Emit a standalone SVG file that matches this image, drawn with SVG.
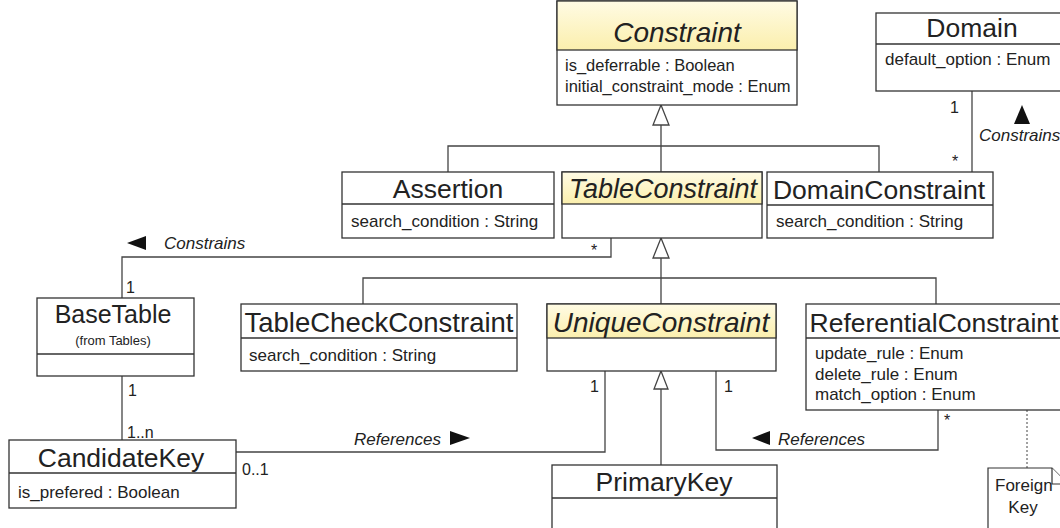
<svg xmlns="http://www.w3.org/2000/svg" width="1060" height="528" viewBox="0 0 1060 528">
  <defs>
    <linearGradient id="yel" x1="0" y1="0" x2="0" y2="1">
      <stop offset="0" stop-color="#fffbe4"/>
      <stop offset="1" stop-color="#fbefad"/>
    </linearGradient>
    <style>
      .box { fill: #ffffff; stroke: #333333; stroke-width: 1.3; }
      .hdr { fill: url(#yel); stroke: #333333; stroke-width: 1.3; }
      .sep { stroke: #333333; stroke-width: 1.3; }
      text { font-family: "Liberation Sans", Arial, Helvetica, sans-serif; fill: #222222; }
      .title { font-size: 26.5px; text-anchor: middle; }
      .it { font-style: italic; font-size: 27.5px; }
      .attr { font-size: 17px; }
      .small { font-size: 13px; text-anchor: middle; }
      .lbl { font-size: 17px; font-style: italic; }
      .mult { font-size: 16px; }
      .conn { fill: none; stroke: #444444; stroke-width: 1.3; }
      .dot { fill: none; stroke: #444444; stroke-width: 1; stroke-dasharray: 2 2; }
      .gen { fill: #ffffff; stroke: #444444; stroke-width: 1.3; }
      .dir { fill: #111111; }
      .note { fill: #ffffff; stroke: #333333; stroke-width: 1.2; }
    </style>
  </defs>

  <!-- connectors -->
  <g id="connectors">
    <!-- generalization: Assertion / TableConstraint / DomainConstraint -> Constraint -->
    <path class="conn" d="M661 125 V172 M448 172 V146 H879 V172"/>
    <polygon class="gen" points="661,105 653,125 669,125"/>
    <!-- generalization: TableCheckConstraint / UniqueConstraint / ReferentialConstraint -> TableConstraint -->
    <path class="conn" d="M661 258 V304 M363 304 V278 H936 V304"/>
    <polygon class="gen" points="661,238 653,258 669,258"/>
    <!-- generalization: PrimaryKey -> UniqueConstraint -->
    <path class="conn" d="M661 389 V465"/>
    <polygon class="gen" points="661,371 654,389 668,389"/>

    <!-- Domain constrains DomainConstraint -->
    <path class="conn" d="M972 91 V172"/>
    <text class="mult" x="950" y="113">1</text>
    <text class="mult" x="952" y="167">*</text>
    <polygon class="dir" points="1022,105 1014,124 1030,124"/>
    <text class="lbl" x="979" y="141">Constrains</text>

    <!-- TableConstraint constrains BaseTable -->
    <path class="conn" d="M611 238 V257 H122 V298"/>
    <text class="mult" x="591" y="256">*</text>
    <text class="mult" x="126" y="293">1</text>
    <polygon class="dir" points="127,243 146,236 146,250"/>
    <text class="lbl" x="164" y="249">Constrains</text>

    <!-- BaseTable - CandidateKey -->
    <path class="conn" d="M122 376 V440"/>
    <text class="mult" x="128" y="396">1</text>
    <text class="mult" x="127" y="438">1..n</text>

    <!-- CandidateKey references UniqueConstraint -->
    <path class="conn" d="M236 452 H605 V371"/>
    <text class="mult" x="242" y="475">0..1</text>
    <text class="mult" x="590" y="392">1</text>
    <text class="lbl" x="354" y="445">References</text>
    <polygon class="dir" points="470,438 450,431 450,445"/>

    <!-- ReferentialConstraint references UniqueConstraint -->
    <path class="conn" d="M938 410 V450 H716 V371"/>
    <text class="mult" x="724" y="392">1</text>
    <text class="mult" x="944" y="426">*</text>
    <polygon class="dir" points="752,438 770,431 770,445"/>
    <text class="lbl" x="778" y="445">References</text>

    <!-- note anchor -->
    <path class="dot" d="M1027 410 V468"/>
  </g>

  <!-- Constraint -->
  <g id="constraint">
    <rect class="box" x="557" y="1" width="240" height="104"/>
    <rect class="hdr" x="557" y="1" width="240" height="49"/>
    <text class="title it" x="677" y="42" style="font-size:28px">Constraint</text>
    <text class="attr" x="565" y="71" style="font-size:16.5px">is_deferrable : Boolean</text>
    <text class="attr" x="565" y="92" style="font-size:16.5px">initial_constraint_mode : Enum</text>
  </g>

  <!-- Domain -->
  <g id="domain">
    <rect class="box" x="876" y="13" width="192" height="78"/>
    <line class="sep" x1="876" y1="44" x2="1068" y2="44"/>
    <text class="title" x="972" y="37">Domain</text>
    <text class="attr" x="885" y="65">default_option : Enum</text>
  </g>

  <!-- Assertion -->
  <g id="assertion">
    <rect class="box" x="342" y="172" width="212" height="66"/>
    <line class="sep" x1="342" y1="204" x2="554" y2="204"/>
    <text class="title" x="448" y="198">Assertion</text>
    <text class="attr" x="351" y="227">search_condition : String</text>
  </g>

  <!-- TableConstraint -->
  <g id="table-constraint">
    <rect class="box" x="562" y="172" width="200" height="66"/>
    <rect class="hdr" x="562" y="172" width="200" height="32"/>
    <text class="title it" x="663" y="198" style="font-size:27px">TableConstraint</text>
  </g>

  <!-- DomainConstraint -->
  <g id="domain-constraint">
    <rect class="box" x="767" y="172" width="226" height="66"/>
    <line class="sep" x1="767" y1="205" x2="993" y2="205"/>
    <text class="title" x="879" y="199">DomainConstraint</text>
    <text class="attr" x="776" y="227">search_condition : String</text>
  </g>

  <!-- BaseTable -->
  <g id="base-table">
    <rect class="box" x="37" y="298" width="157" height="78"/>
    <line class="sep" x1="37" y1="354" x2="194" y2="354"/>
    <text class="title" x="113" y="323" style="font-size:25px">BaseTable</text>
    <text class="small" x="113" y="345">(from Tables)</text>
  </g>

  <!-- TableCheckConstraint -->
  <g id="table-check-constraint">
    <rect class="box" x="241" y="304" width="276" height="67"/>
    <line class="sep" x1="241" y1="338" x2="517" y2="338"/>
    <text class="title" x="379" y="332" style="font-size:27.5px">TableCheckConstraint</text>
    <text class="attr" x="249" y="361">search_condition : String</text>
  </g>

  <!-- UniqueConstraint -->
  <g id="unique-constraint">
    <rect class="box" x="547" y="304" width="229" height="67"/>
    <rect class="hdr" x="547" y="304" width="229" height="34"/>
    <text class="title it" x="661" y="332" style="font-size:28px">UniqueConstraint</text>
  </g>

  <!-- ReferentialConstraint -->
  <g id="referential-constraint">
    <rect class="box" x="806" y="304" width="264" height="106"/>
    <line class="sep" x1="806" y1="338" x2="1070" y2="338"/>
    <text class="title" x="934" y="332">ReferentialConstraint</text>
    <text class="attr" x="815" y="359">update_rule : Enum</text>
    <text class="attr" x="815" y="380">delete_rule : Enum</text>
    <text class="attr" x="815" y="400">match_option : Enum</text>
  </g>

  <!-- CandidateKey -->
  <g id="candidate-key">
    <rect class="box" x="9" y="440" width="227" height="68"/>
    <line class="sep" x1="9" y1="473" x2="236" y2="473"/>
    <text class="title" x="121" y="467">CandidateKey</text>
    <text class="attr" x="18" y="498">is_prefered : Boolean</text>
  </g>

  <!-- PrimaryKey -->
  <g id="primary-key">
    <rect class="box" x="552" y="465" width="225" height="75"/>
    <line class="sep" x1="552" y1="498" x2="777" y2="498"/>
    <text class="title" x="664" y="491">PrimaryKey</text>
  </g>

  <!-- Foreign Key note -->
  <g id="foreign-key-note">
    <path class="note" d="M988 468 H1052 L1068 484 V540 H988 Z"/>
    <path class="note" d="M1052 468 V484 H1068"/>
    <text class="attr" x="995" y="491">Foreign</text>
    <text class="attr" x="1023" y="513" text-anchor="middle">Key</text>
  </g>
</svg>
